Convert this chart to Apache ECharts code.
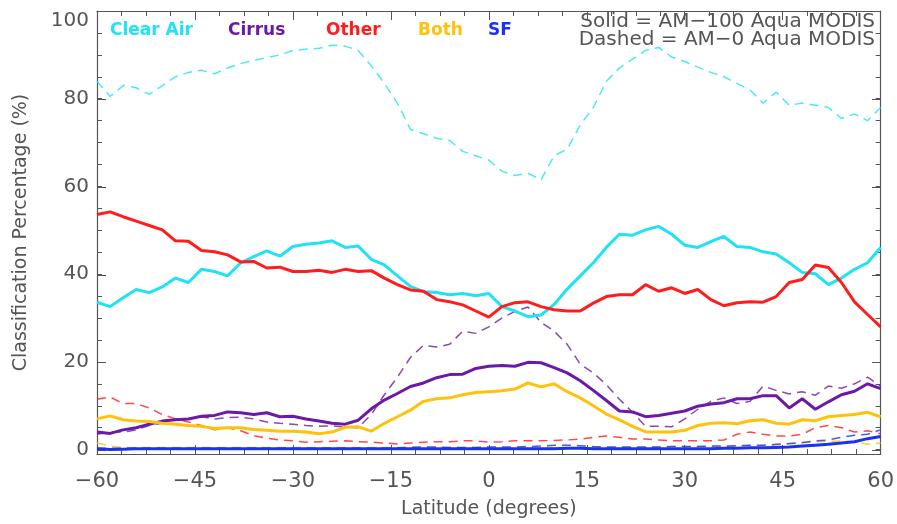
<!DOCTYPE html>
<html>
<head>
<meta charset="utf-8">
<script src="https://cdn.jsdelivr.net/npm/echarts@6/dist/echarts.min.js"></script>
<style>
  html, body { margin: 0; padding: 0; background: #fff; }
  #chart { width: 897px; height: 524px; }
</style>
</head>
<body>
<div id="chart"></div>
<script>
// latitude grid (degrees)
var lat = [-60, -58, -56, -54, -52, -50, -48, -46, -44, -42, -40, -38, -36, -34, -32, -30, -28, -26, -24, -22,
  -20, -18, -16, -14, -12, -10, -8, -6, -4, -2, 0, 2, 4, 6, 8, 10, 12, 14, 16, 18,
  20, 22, 24, 26, 28, 30, 32, 34, 36, 38, 40, 42, 44, 46, 48, 50, 52, 54, 56, 58, 60];

// Solid = AM-100 Aqua MODIS
var clearAir100 = [33.6, 32.6, 34.6, 36.5, 35.8, 37.1, 39.1, 38.1, 41.1, 40.6, 39.6, 42.6, 44, 45.3, 44.1, 46.3, 46.8, 47.1, 47.6, 46.1,
  46.4, 43.4, 42.1, 39.6, 37.2, 36, 35.8, 35.3, 35.6, 35.1, 35.6, 32.6, 31.6, 30.3, 30.7, 33.1, 36.6, 39.6, 42.6, 46.1,
  49.1, 48.9, 50.1, 50.9, 49.1, 46.6, 46.1, 47.4, 48.6, 46.3, 46.1, 45.1, 44.6, 42.6, 40.4, 40.1, 37.6, 39.1, 41.1, 42.6, 46.1];
var cirrus100 = [4, 3.7, 4.5, 5, 5.8, 6.5, 6.8, 7, 7.6, 7.8, 8.6, 8.4, 8, 8.4, 7.5, 7.6, 7, 6.5, 6, 5.8,
  6.7, 9.3, 11.3, 12.8, 14.4, 15.2, 16.4, 17.1, 17.2, 18.5, 19, 19.2, 19, 19.9, 19.8, 18.7, 17.5, 15.7, 13.5, 11.2,
  8.8, 8.6, 7.5, 7.8, 8.3, 8.8, 9.9, 10.4, 10.7, 11.6, 11.6, 12.3, 12.3, 9.5, 11.6, 9.2, 10.9, 12.5, 13.3, 15, 13.9];
var other100 = [53.6, 54.2, 53.1, 52.1, 51.1, 50.1, 47.6, 47.5, 45.4, 45.1, 44.4, 42.8, 42.9, 41.4, 41.6, 40.6, 40.6, 40.9, 40.4, 41.1,
  40.6, 40.8, 39.1, 37.6, 36.4, 36.1, 34.2, 33.7, 33, 31.6, 30.2, 32.6, 33.5, 33.7, 32.6, 31.9, 31.6, 31.6, 33.4, 34.9,
  35.3, 35.3, 37.6, 36.1, 36.9, 35.6, 36.5, 34.2, 32.8, 33.5, 33.7, 33.6, 34.9, 38.1, 38.8, 42.1, 41.5, 38.1, 33.7, 30.8, 28];
var both100 = [7, 7.7, 6.8, 6.5, 6.4, 6, 5.8, 5.5, 5.3, 4.8, 5, 5, 4.6, 4.4, 4.2, 4.2, 4, 3.6, 4, 5.1,
  5.2, 4.2, 6, 7.5, 9, 11, 11.6, 11.8, 12.5, 13, 13.2, 13.4, 13.8, 15.2, 14.3, 15, 13.2, 11.8, 10, 8.1,
  6.8, 5.3, 4.1, 4, 4, 4.4, 5.5, 6, 6.1, 5.9, 6.6, 6.8, 6, 5.8, 6.8, 6.6, 7.5, 7.8, 8, 8.5, 7.5];
var sf100 = [0.2, 0, 0.1, 0.2, 0.2, 0.2, 0.2, 0.2, 0.2, 0.2, 0.2, 0.2, 0.2, 0.2, 0.2, 0.2, 0.2, 0.2, 0.2, 0.2,
  0.2, 0.2, 0.2, 0.2, 0.2, 0.2, 0.2, 0.2, 0.2, 0.2, 0.2, 0.2, 0.2, 0.2, 0.2, 0.2, 0.3, 0.3, 0.2, 0.2,
  0.2, 0.2, 0.2, 0.2, 0.2, 0.2, 0.2, 0.2, 0.3, 0.3, 0.4, 0.4, 0.5, 0.6, 0.8, 1, 1.2, 1.5, 1.8, 2.5, 3];

// Dashed = AM-0 Aqua MODIS
var clearAir0 = [84, 80.5, 83, 82.5, 81, 83, 85, 86, 86.5, 85.7, 87, 88, 88.7, 89.4, 90, 91, 91.3, 91.5, 92.2, 92,
  91, 87.5, 83.5, 79, 73, 72, 71, 70.5, 68, 67, 66, 63.5, 62.5, 63, 61.5, 67, 68.5, 74, 78, 84,
  87, 89, 91, 91.7, 89.5, 88.5, 87.2, 86, 85, 83.5, 82, 79, 81.5, 78.5, 79, 78.5, 78, 75.5, 76.5, 75, 78];
var cirrus0 = [3.5, 4, 4, 4.5, 5.5, 6, 7, 7, 7.5, 7, 7.3, 7.4, 7, 6.3, 6, 5.8, 5.5, 5.3, 5.4, 5.1,
  5, 8, 12.5, 16.5, 21, 23.8, 23.4, 24, 27, 26.5, 28, 30, 31.5, 32.5, 29, 27, 24, 19.5, 17.5, 14.8,
  11.5, 8.5, 5.3, 5.3, 5.2, 7, 9.2, 11, 11.8, 10.5, 11, 14.5, 13.5, 12.7, 13.2, 12.4, 14.5, 14, 15, 16.5, 14.5];
var other0 = [11.5, 12, 10.5, 10.5, 9.5, 8, 7, 6.3, 5.5, 4.5, 5, 4.3, 3.2, 2.6, 2.2, 2, 1.7, 1.8, 1.9, 2,
  1.8, 1.7, 1.5, 1.3, 1.5, 1.7, 1.8, 1.8, 2, 2, 1.7, 1.8, 2, 2, 2, 2.1, 2.2, 2.4, 2.8, 3.1,
  2.8, 2.4, 2.4, 2.2, 2, 2, 2, 2, 2.2, 3.5, 4, 3.5, 3.1, 3.1, 3.5, 5, 5.5, 5, 4, 4.3, 3.6];
var both0 = [1.5, 0.8, 0.5, 0.5, 0.5, 0.5, 0.5, 0.5, 0.5, 0.5, 0.5, 0.5, 0.5, 0.5, 0.5, 0.5, 0.5, 0.5, 0.5, 0.5,
  0.5, 0.5, 0.5, 0.5, 0.5, 0.5, 0.5, 0.5, 0.5, 0.5, 0.5, 0.5, 0.5, 0.5, 0.5, 0.5, 0.5, 0.5, 0.5, 0.5,
  0.5, 0.5, 0.5, 0.6, 0.7, 0.7, 0.7, 0.7, 0.7, 0.8, 0.8, 0.9, 1, 1.3, 1.5, 1.8, 1.9, 2, 1.8, 1.2, 1.5];
var sf0 = [0.3, 0.3, 0.3, 0.3, 0.3, 0.3, 0.3, 0.3, 0.3, 0.3, 0.3, 0.3, 0.3, 0.3, 0.3, 0.3, 0.3, 0.3, 0.3, 0.3,
  0.3, 0.3, 0.3, 0.4, 0.5, 0.6, 0.6, 0.5, 0.5, 0.5, 0.6, 0.6, 0.6, 0.7, 0.8, 1, 1, 0.9, 0.7, 0.6,
  0.6, 0.6, 0.6, 0.6, 0.7, 0.7, 0.7, 0.8, 0.8, 0.9, 1, 1, 1.2, 1.4, 1.6, 2, 2.2, 2.8, 3.3, 3.5, 4.5];

var xTicks = [-60, 60, 15];            // min, max, step
var yLabels = [0, 20, 40, 60, 80, 100];
var yMinor = [0, 5, 10, 15, 20, 25, 30, 35, 40, 45, 50, 55, 60, 65, 70, 75, 80, 85, 90, 95, 100];

var colors = {
  clear: "#1fe2f6",
  cirrus: "#6a1aa6",
  other: "#ff1c1c",
  both: "#ffc20a",
  sf: "#1a33f2"
};
var axisColor = "#555";
var textColor = "#555";
var font = "DejaVu Sans";

function pairs(ys) {
  return lat.map(function (x, i) { return [x, ys[i]]; });
}
function minusFix(v) {
  return String(v).replace("-", "\u2212");
}

var chart = echarts.init(document.getElementById("chart"));

function solid(name, data, color) {
  return {
    name: name, type: "line", data: pairs(data), symbol: "none", z: 5,
    lineStyle: { color: color, width: 3 }
  };
}
function dashed(name, data, color) {
  return {
    name: name, type: "line", data: pairs(data), symbol: "none", z: 3,
    lineStyle: { color: color, width: 1.5, type: [9, 6], opacity: 0.8 }
  };
}

var gridRect = { left: 97, right: 16, top: 11, bottom: 69 };
var xBase = {
  type: "value", min: xTicks[0], max: xTicks[1], interval: xTicks[2],
  splitLine: { show: false },
  axisLine: { onZero: false, lineStyle: { color: axisColor, width: 1.2 } },
  axisTick: { inside: true, length: 9, lineStyle: { color: axisColor } },
  minorTick: { show: true, splitNumber: 4, length: 5, lineStyle: { color: axisColor } }
};
var yBase = {
  type: "value", min: -1, max: 100,
  splitLine: { show: false },
  axisLine: { onZero: false, lineStyle: { color: axisColor, width: 1.2 } }
};

var option = {
  animation: false,
  backgroundColor: "#fff",
  grid: [
    Object.assign({}, gridRect),
    Object.assign({}, gridRect)
  ],
  xAxis: [
    Object.assign({}, xBase, {
      gridIndex: 0, position: "bottom",
      name: "Latitude (degrees)", nameLocation: "middle", nameGap: 46,
      nameTextStyle: { color: textColor, fontSize: 19, fontFamily: font },
      axisLabel: { color: textColor, fontSize: 21, fontFamily: font, margin: 17, formatter: minusFix }
    }),
    Object.assign({}, xBase, {
      gridIndex: 0, position: "top", axisLabel: { show: false }
    }),
    { type: "value", gridIndex: 1, min: -60, max: 60, show: false }
  ],
  yAxis: [
    Object.assign({}, yBase, {
      gridIndex: 0, position: "left",
      name: "Classification Percentage (%)", nameLocation: "middle", nameGap: 66,
      nameTextStyle: { color: textColor, fontSize: 19, fontFamily: font },
      axisLabel: {
        color: textColor, fontSize: 20, fontFamily: font, margin: 8, customValues: yLabels,
        verticalAlignMaxLabel: "top"
      },
      axisTick: { inside: true, length: 5, customValues: yMinor, lineStyle: { color: axisColor } }
    }),
    Object.assign({}, yBase, {
      gridIndex: 0, position: "right",
      axisLabel: { show: false },
      axisTick: { inside: true, length: 5, customValues: yMinor, lineStyle: { color: axisColor } }
    }),
    Object.assign({}, yBase, {
      gridIndex: 1, position: "left",
      axisLine: { show: false, onZero: false },
      axisLabel: { show: false },
      axisTick: { inside: true, length: 9, customValues: yLabels, lineStyle: { color: axisColor } }
    }),
    Object.assign({}, yBase, {
      gridIndex: 1, position: "right",
      axisLine: { show: false, onZero: false },
      axisLabel: { show: false },
      axisTick: { inside: true, length: 9, customValues: yLabels, lineStyle: { color: axisColor } }
    })
  ],
  graphic: [
    { type: "text", left: 110, top: 22, style: { text: "Clear Air", fill: colors.clear, font: "bold 17px " + font } },
    { type: "text", left: 228, top: 22, style: { text: "Cirrus", fill: colors.cirrus, font: "bold 17px " + font } },
    { type: "text", left: 326, top: 22, style: { text: "Other", fill: colors.other, font: "bold 17px " + font } },
    { type: "text", left: 418, top: 22, style: { text: "Both", fill: colors.both, font: "bold 17px " + font } },
    { type: "text", left: 488, top: 22, style: { text: "SF", fill: colors.sf, font: "bold 17px " + font } },
    { type: "text", right: 22, top: 12, style: { text: "Solid = AM\u2212100 Aqua MODIS", fill: textColor, font: "20px " + font } },
    { type: "text", right: 22, top: 30, style: { text: "Dashed = AM\u22120 Aqua MODIS", fill: textColor, font: "20px " + font } }
  ],
  series: [
    dashed("Clear Air AM-0", clearAir0, colors.clear),
    dashed("Cirrus AM-0", cirrus0, colors.cirrus),
    dashed("Other AM-0", other0, colors.other),
    dashed("Both AM-0", both0, colors.both),
    dashed("SF AM-0", sf0, colors.sf),
    solid("Clear Air AM-100", clearAir100, colors.clear),
    solid("Cirrus AM-100", cirrus100, colors.cirrus),
    solid("Other AM-100", other100, colors.other),
    solid("Both AM-100", both100, colors.both),
    solid("SF AM-100", sf100, colors.sf)
  ]
};

chart.setOption(option);
</script>
</body>
</html>
